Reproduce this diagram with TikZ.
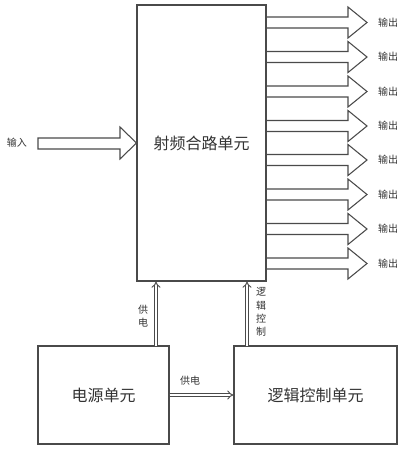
\documentclass[tikz,border=0pt]{standalone}
\usepackage{fontspec}
\newfontfamily\cjk{Noto Sans CJK SC}
\usetikzlibrary{arrows.meta}
\definecolor{ln}{HTML}{4A4A4A}
\definecolor{tx}{HTML}{333333}
\begin{document}
\begin{tikzpicture}[x=0.75pt,y=-0.75pt,
  box/.style={draw=ln, line width=0.8pt, inner sep=0pt, font=\cjk\fontsize{12}{14}\selectfont, text=tx},
  fat/.style={draw=ln, line width=0.8pt},
  lbl/.style={font=\cjk\fontsize{7.5}{10}\selectfont, text=tx, inner sep=0pt, align=center},
  dbl/.style={draw=ln, double=white, double distance=1.6pt, line width=0.7pt, -{Implies[length=3pt]}}]
\useasboundingbox (0,0) rectangle (402,450);
\node[box, minimum width=96.75pt, minimum height=207pt] (rf) at (201.5,143) {射频合路单元};
\node[box, minimum width=98.25pt, minimum height=73.5pt] (pw) at (103.5,395) {电源单元};
\node[box, minimum width=122.25pt, minimum height=73.5pt] (lg) at (315.5,395) {逻辑控制单元};
% input arrow
\node[lbl] (in) at (17,143) {输入};
\draw[fat] (38,138) -- (120,138) -- (120,127) -- (rf.west |- 0,143) -- (120,159) -- (120,149) -- (38,149) -- cycle;
% output arrows
\foreach \i/\y in {1/22.5,2/57,3/91.5,4/126,5/160,6/194.5,7/229,8/263.5}{
  \node[lbl] (o\i) at (388,\y) {输出};
  \draw[fat] (rf.east |- 0,\y-5.5) -- (348,\y-5.5) -- (348,\y-15.5) -- (367,\y) -- (348,\y+15.5) -- (348,\y+5.5) -- (rf.east |- 0,\y+5.5);
}
% double arrows
\coordinate (p1) at (156,346);
\coordinate (p2) at (247,346);
\draw[dbl] (p1) -- (p1 |- rf.south);
\draw[dbl] (p2) -- (p2 |- rf.south);
\draw[dbl] (pw.east |- 0,395) -- (lg.west |- 0,395);
\node[lbl] (l1) at (143,316) {供\\电};
\node[lbl] (l2) at (261,312) {逻\\辑\\控\\制};
\node[lbl] (l3) at (190,381) {供电};
\end{tikzpicture}
\end{document}
